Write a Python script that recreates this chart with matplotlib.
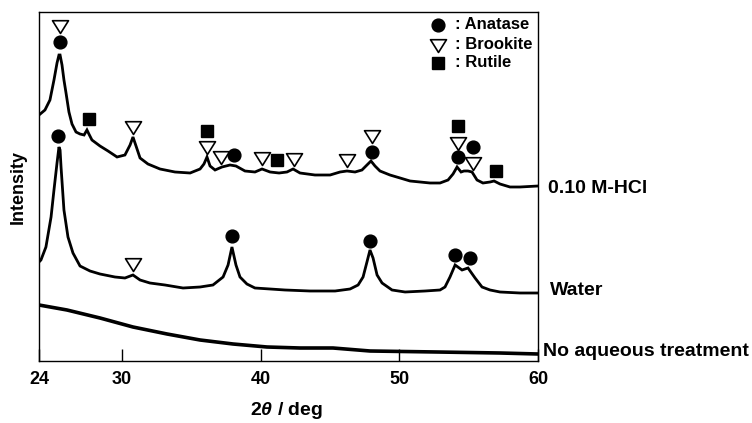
import matplotlib
matplotlib.use("Agg")
import matplotlib.pyplot as plt
from matplotlib.path import Path

plt.rcParams['font.family'] = ['Liberation Sans', 'DejaVu Sans']
plt.rcParams['font.weight'] = 'bold'
plt.rcParams['mathtext.fontset'] = 'custom'
plt.rcParams['mathtext.it'] = 'Liberation Sans:italic'
plt.rcParams['mathtext.rm'] = 'Liberation Sans:bold'

# ---------------- data (2theta / deg, intensity a.u.) ----------------
hcl_2t = [24.0, 24.43, 24.79, 25.08, 25.3, 25.44, 25.52, 25.66, 25.8, 25.95, 26.16, 26.38,
          26.67, 26.96, 27.25, 27.46, 27.6, 27.82, 28.4, 28.98, 29.63, 30.2, 30.57, 30.78,
          31.0, 31.29, 31.86, 32.73, 33.81, 34.9, 35.62, 35.9, 36.12, 36.34, 36.7, 37.2,
          37.78, 38.21, 38.86, 39.58, 40.09, 40.67, 41.32, 41.89, 42.33, 42.83, 43.91, 45.0,
          45.72, 46.22, 46.8, 47.3, 47.66, 47.95, 48.24, 48.6, 49.32, 50.05, 50.77, 51.49,
          52.21, 52.93, 53.51, 53.87, 54.16, 54.45, 54.66, 54.95, 55.24, 55.6, 56.03, 56.54,
          56.83, 57.26, 57.98, 58.7, 60.0]
hcl_int = [246, 251, 261, 281, 298, 306, 306, 296, 281, 268, 249, 237,
           229, 227, 226, 231, 227, 221, 215, 210, 204, 206, 216, 224,
           215, 203, 197, 192, 189, 188, 192, 197, 204, 195, 191, 194,
           196, 195, 190, 189, 192, 189, 188, 189, 192, 188, 186, 186,
           189, 190, 189, 191, 196, 200, 195, 190, 186, 183, 180, 179,
           178, 178, 181, 187, 194, 189, 190, 190, 189, 181, 178, 179,
           180, 177, 174, 174, 175]

water_2t = [24.0, 24.14, 24.5, 24.87, 25.08, 25.3, 25.44, 25.52, 25.59, 25.8, 26.09, 26.45,
            26.96, 27.68, 28.4, 29.48, 30.2, 30.78, 31.29, 32.0, 33.09, 34.39, 35.62, 36.55,
            37.28, 37.64, 37.92, 38.21, 38.5, 39.0, 39.58, 40.67, 41.75, 43.55, 45.36, 46.44,
            47.02, 47.38, 47.66, 47.88, 48.1, 48.39, 48.75, 49.47, 50.41, 51.85, 52.93, 53.29,
            53.65, 54.02, 54.52, 54.95, 55.46, 55.96, 56.54, 57.26, 58.7, 60.0]
water_int = [99, 101, 114, 144, 171, 198, 214, 211, 194, 151, 124, 108,
             95, 90, 87, 84, 83, 86, 81, 78, 76, 73, 74, 76,
             84, 96, 114, 96, 84, 77, 73, 72, 71, 70, 70, 72,
             76, 84, 99, 111, 103, 86, 78, 71, 69, 70, 71, 74,
             84, 96, 91, 93, 83, 74, 71, 69, 68, 68]

none_2t = [24.0, 26.02, 28.4, 30.78, 33.24, 35.62, 38.0, 40.45, 42.83, 45.21, 47.88,
           52.72, 57.26, 60.0]
none_int = [56, 51, 43, 34, 27, 21, 17, 14, 13, 13, 10, 9, 8, 7]

# phase markers: (2theta, intensity)
anatase_2t = [25.5, 38.1, 48.0, 54.2, 55.3, 25.4, 37.9, 47.9, 54.0, 55.1]
anatase_y = [319, 206, 209, 204, 214, 225, 125, 120, 106, 103]
brookite_2t = [25.5, 30.8, 36.1, 37.1, 40.1, 42.4, 46.2, 48.0, 54.2, 55.3, 30.8]
brookite_y = [336, 235, 215, 205, 204, 203, 202, 226, 219, 199, 98]
rutile_2t = [27.6, 36.1, 41.2, 54.2, 57.0]
rutile_y = [242, 230, 201, 235, 190]

sample_labels = ['0.10 M-HCl', 'Water', 'No aqueous treatment']
legend_labels = [': Anatase', ': Brookite', ': Rutile']
xticks = [24, 30, 40, 50, 60]

# ---------------- figure ----------------
fig = plt.figure(figsize=(7.52, 4.23), dpi=100)
ax = fig.add_axes([39/752, 62/423, 499/752, 349/423])

for xs, ys, lw in [(hcl_2t, hcl_int, 2.0), (water_2t, water_int, 2.0), (none_2t, none_int, 2.6)]:
    ax.plot(xs, ys, color='black', lw=lw, solid_joinstyle='miter')

tri = Path([(-1, 0.6), (1, 0.6), (0, -1.0), (-1, 0.6)],
           [Path.MOVETO, Path.LINETO, Path.LINETO, Path.CLOSEPOLY])

ax.plot(anatase_2t, anatase_y, 'o', ms=9.2, color='black', ls='none')
ax.plot(brookite_2t, brookite_y, marker=tri, ms=11.5, mfc='white', mec='black',
        mew=1.2, ls='none')
ax.plot(rutile_2t, rutile_y, 's', ms=9.0, color='black', ls='none')

ax.set_xlim(24, 60)
ax.set_ylim(0, 349)
ax.set_xticks(xticks)
ax.set_xticklabels([str(t) for t in xticks])
ax.set_yticks([])
ax.tick_params(axis='x', direction='in', length=9, width=1.0, labelsize=13, pad=7)
for lab in ax.get_xticklabels():
    lab.set_fontweight('bold')
for sp in ax.spines.values():
    sp.set_linewidth(1.0)

# manual legend
leg_y = [0.9628, 0.908, 0.854]
mx = 0.7996
ax.plot([mx], [leg_y[0]], 'o', ms=9.2, color='black', transform=ax.transAxes, clip_on=False)
ax.plot([mx], [leg_y[1]], marker=tri, ms=11.5, mfc='white', mec='black', mew=1.2,
        transform=ax.transAxes, clip_on=False)
ax.plot([mx], [leg_y[2]], 's', ms=9.0, color='black', transform=ax.transAxes, clip_on=False)
for yy, lab in zip(leg_y, legend_labels):
    ax.text(0.8337, yy, lab, transform=ax.transAxes, ha='left', va='center',
            fontsize=12, fontweight='bold')

# sample labels at right
lab_pos = [(1.020, 0.4957), (1.024, 0.2006), (1.010, 0.0258)]
for (xx, yy), lab in zip(lab_pos, sample_labels):
    ax.text(xx, yy, lab, transform=ax.transAxes, ha='left', va='center',
            fontsize=14, fontweight='bold', clip_on=False)

fig.text(18/752, 1 - 187/423, 'Intensity', rotation=90, ha='center', va='center',
         fontsize=13, fontweight='bold')
fig.text(287/752, 1 - 410/423, r'2$\theta$ / deg', ha='center', va='center',
         fontsize=14, fontweight='bold')

fig.savefig('out.png', dpi=100)
